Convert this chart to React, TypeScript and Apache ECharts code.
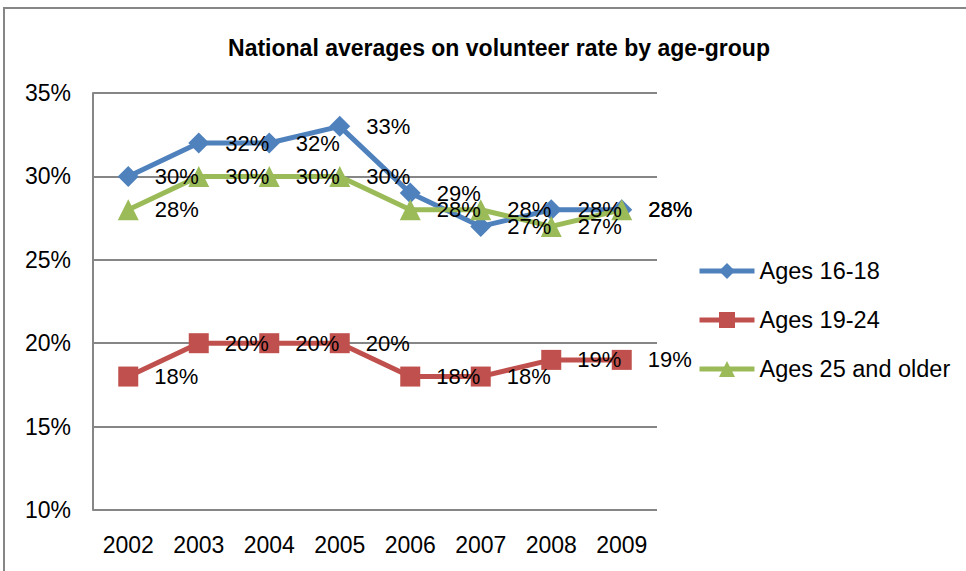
import React, { useEffect, useRef } from "react";
import * as echarts from "echarts";

const years = ["2002", "2003", "2004", "2005", "2006", "2007", "2008", "2009"];
const ages16to18 = [30, 32, 32, 33, 29, 27, 28, 28];
const ages19to24 = [18, 20, 20, 20, 18, 18, 19, 19];
const ages25plus = [28, 30, 30, 30, 28, 28, 27, 28];
const seriesNames = ["Ages 16-18", "Ages 19-24", "Ages 25 and older"];

const FONT = "'Liberation Sans', Arial, sans-serif";

export default function App() {
  const ref = useRef<HTMLDivElement>(null);
  useEffect(() => {
    if (!ref.current) return;
    const chart = echarts.init(ref.current, undefined, { renderer: "svg" });
    const labelCfg = {
      show: true,
      position: "right" as const,
      distance: 16,
      formatter: (p: any) => p.value + "%",
      color: "#000",
      fontSize: 22,
      fontFamily: FONT,
    };
    const mk = (name: string, data: number[], color: string, symbol: string, size: number) => ({
      name,
      type: "line",
      data,
      symbol,
      symbolSize: size,
      lineStyle: { width: 5, color },
      itemStyle: { color },
      label: labelCfg,
    });
    chart.setOption({
      animation: false,
      backgroundColor: "#fff",
      title: {
        text: "National averages on volunteer rate by age-group",
        left: 494,
        top: 31,
        textAlign: "center",
        textStyle: { fontFamily: FONT, fontSize: 23, fontWeight: "bold", color: "#000" },
      },
      grid: { left: 93, right: 309, top: 93, bottom: 61 },
      legend: {
        orient: "vertical",
        left: 692,
        top: 254,
        itemGap: 25,
        itemWidth: 55,
        itemHeight: 20,
        lineStyle: { width: 5 },
        textStyle: { fontFamily: FONT, fontSize: 23.5, color: "#000" },
        data: seriesNames,
      },
      xAxis: {
        type: "category",
        data: years,
        boundaryGap: true,
        axisLine: { show: false },
        axisTick: { show: false },
        axisLabel: { fontFamily: FONT, fontSize: 23, color: "#000", margin: 23 },
      },
      yAxis: {
        type: "value",
        min: 10,
        max: 35,
        interval: 5,
        axisLine: { show: true, lineStyle: { color: "#868686", width: 2 } },
        axisTick: { show: false },
        axisLabel: { fontFamily: FONT, fontSize: 23, color: "#000", margin: 22, formatter: "{value}%" },
        splitLine: { lineStyle: { color: "#868686", width: 2 } },
      },
      graphic: [
        {
          type: "rect",
          shape: { x: 4, y: 8, width: 1000, height: 600 },
          style: { fill: "none", stroke: "#868686", lineWidth: 2 },
          silent: true,
        },
      ],
      series: [
        mk(seriesNames[0], ages16to18, "#4F81BD", "diamond", 21),
        mk(seriesNames[1], ages19to24, "#C0504D", "rect", 20),
        mk(seriesNames[2], ages25plus, "#9BBB59", "triangle", 21),
      ],
    });
    return () => chart.dispose();
  }, []);
  return (
    <div
      ref={ref}
      style={{ position: "absolute", left: 0, top: 0, width: 966, height: 571 }}
    />
  );
}
